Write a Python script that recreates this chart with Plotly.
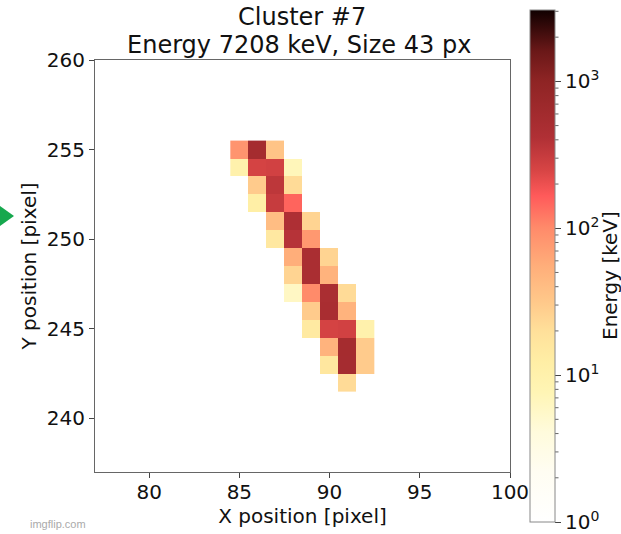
import numpy as np
import plotly.graph_objects as go

# Cluster pixels (x, y) and deposited energy [keV]
px_x = [85, 86, 87,
        85, 86, 87, 88,
        86, 87, 88,
        86, 87, 88,
        87, 88, 89,
        87, 88, 89,
        88, 89, 90,
        88, 89, 90,
        88, 89, 90, 91,
        89, 90, 91,
        89, 90, 91, 92,
        90, 91, 92,
        90, 91, 92,
        91]
px_y = [255, 255, 255,
        254, 254, 254, 254,
        253, 253, 253,
        252, 252, 252,
        251, 251, 251,
        250, 250, 250,
        249, 249, 249,
        248, 248, 248,
        247, 247, 247, 247,
        246, 246, 246,
        245, 245, 245, 245,
        244, 244, 244,
        243, 243, 243,
        242]
energy = [85, 560, 35,
          10, 260, 270, 7,
          30, 350, 22,
          12, 310, 150,
          40, 440, 25,
          15, 382, 80,
          55, 480, 25,
          25, 480, 50,
          6, 100, 490, 22,
          30, 500, 50,
          14, 260, 270, 10,
          50, 560, 30,
          16, 550, 30,
          22]

cbar_tick_exp = [0, 1, 2, 3]
x_ticks = [80, 85, 90, 95, 100]
y_ticks = [240, 245, 250, 255, 260]
x_range = [77, 100]
y_range = [237, 260]
log_zmax = 3.486

total_e = int(round(sum(energy)))
n_px = len(energy)

# colour scale (position, colour)
cscale = [
    [0.000, "#ffffff"],
    [0.098, "#fffdf2"],
    [0.176, "#fffbdc"],
    [0.253, "#fff5b5"],
    [0.314, "#ffeea5"],
    [0.373, "#ffe09a"],
    [0.431, "#ffc88a"],
    [0.500, "#ffae7a"],
    [0.575, "#ff8a6a"],
    [0.637, "#ff5a5a"],
    [0.686, "#d84545"],
    [0.751, "#b03035"],
    [0.862, "#8e2424"],
    [0.920, "#6a1818"],
    [1.000, "#100000"],
]

W, H = 621, 534
ml, mr, mt, mb = 95, 111, 60, 62
pw, ph = W - ml - mr, H - mt - mb
FS = 20

fig = go.Figure()
fig.add_trace(go.Heatmap(
    x=px_x, y=px_y, z=np.log10(energy),
    zmin=0, zmax=log_zmax, colorscale=cscale,
    hoverinfo="skip",
    colorbar=dict(
        x=(530 - ml) / pw, xanchor="left", xpad=0, ypad=0,
        y=(H - mb - 266) / ph, yanchor="middle",
        thickness=25, lenmode="pixels", len=512,
        outlinecolor="#888888", outlinewidth=1,
        tickvals=cbar_tick_exp,
        ticktext=[f"10<sup>{e}</sup>" for e in cbar_tick_exp],
        ticks="outside", ticklen=6, tickcolor="#444444",
        tickfont=dict(size=FS, color="#111111"),
    ),
))

# minor ticks on the colour bar
cb_bottom, cb_top = 522, 10
def cb_paper_y(logv):
    ypx = cb_bottom - logv / log_zmax * (cb_bottom - cb_top)
    return (H - mb - ypx) / ph
shapes = []
for d in range(4):
    for k in range(2, 10):
        lv = d + np.log10(k)
        if lv > log_zmax:
            continue
        yy = cb_paper_y(lv)
        shapes.append(dict(type="line", xref="paper", yref="paper",
                           x0=(555 - ml) / pw, x1=(558.5 - ml) / pw,
                           y0=yy, y1=yy, line=dict(color="#666666", width=1)))
# imgflip green marker
shapes.append(dict(type="path", xref="paper", yref="paper",
                   path=f"M {(0-ml)/pw},{(H-mb-206)/ph} L {(0-ml)/pw},{(H-mb-226)/ph} "
                        f"L {(14-ml)/pw},{(H-mb-216)/ph} Z",
                   fillcolor="#16a84e", line=dict(width=0)))

axis_common = dict(showline=True, mirror=True, linecolor="#666666", linewidth=1,
                   ticks="outside", ticklen=5, tickcolor="#444444",
                   showgrid=False, zeroline=False,
                   tickfont=dict(size=FS, color="#111111"))

fig.update_layout(
    width=W, height=H,
    margin=dict(l=ml, r=mr, t=mt, b=mb, autoexpand=False),
    paper_bgcolor="white", plot_bgcolor="white",
    font=dict(family="DejaVu Sans", color="#111111"),
    xaxis=dict(range=x_range, tickvals=x_ticks, **axis_common, ticklabelstandoff=-3,
               title=dict(text="X position [pixel]", font=dict(size=FS), standoff=0)),
    yaxis=dict(range=y_range, tickvals=y_ticks, **axis_common,
               title=dict(text="Y position [pixel]", font=dict(size=FS), standoff=4)),
    shapes=shapes,
    annotations=[
        dict(text="Cluster #7", x=(302 - ml) / pw, xref="paper", y=(H - mb - 17) / ph, yref="paper",
             yanchor="middle", showarrow=False, font=dict(size=24, color="#111111")),
        dict(text=f"Energy {total_e} keV, Size {n_px} px", x=(299 - ml) / pw, xref="paper",
             y=(H - mb - 45) / ph, yref="paper", yanchor="middle", showarrow=False,
             font=dict(size=24, color="#111111")),
        dict(text="Energy [keV]", textangle=-90, x=(610 - ml) / pw, xref="paper",
             xanchor="center", y=(H - mb - 276) / ph, yref="paper", yanchor="middle",
             showarrow=False, font=dict(size=FS, color="#111111")),
        dict(text="imgflip.com", x=(28 - ml) / pw, xref="paper", xanchor="left",
             y=(H - mb - 524) / ph, yref="paper", yanchor="middle", showarrow=False,
             font=dict(size=11, color="#aaaaaa", family="Liberation Sans")),
    ],
)

fig.write_html("out.html")
